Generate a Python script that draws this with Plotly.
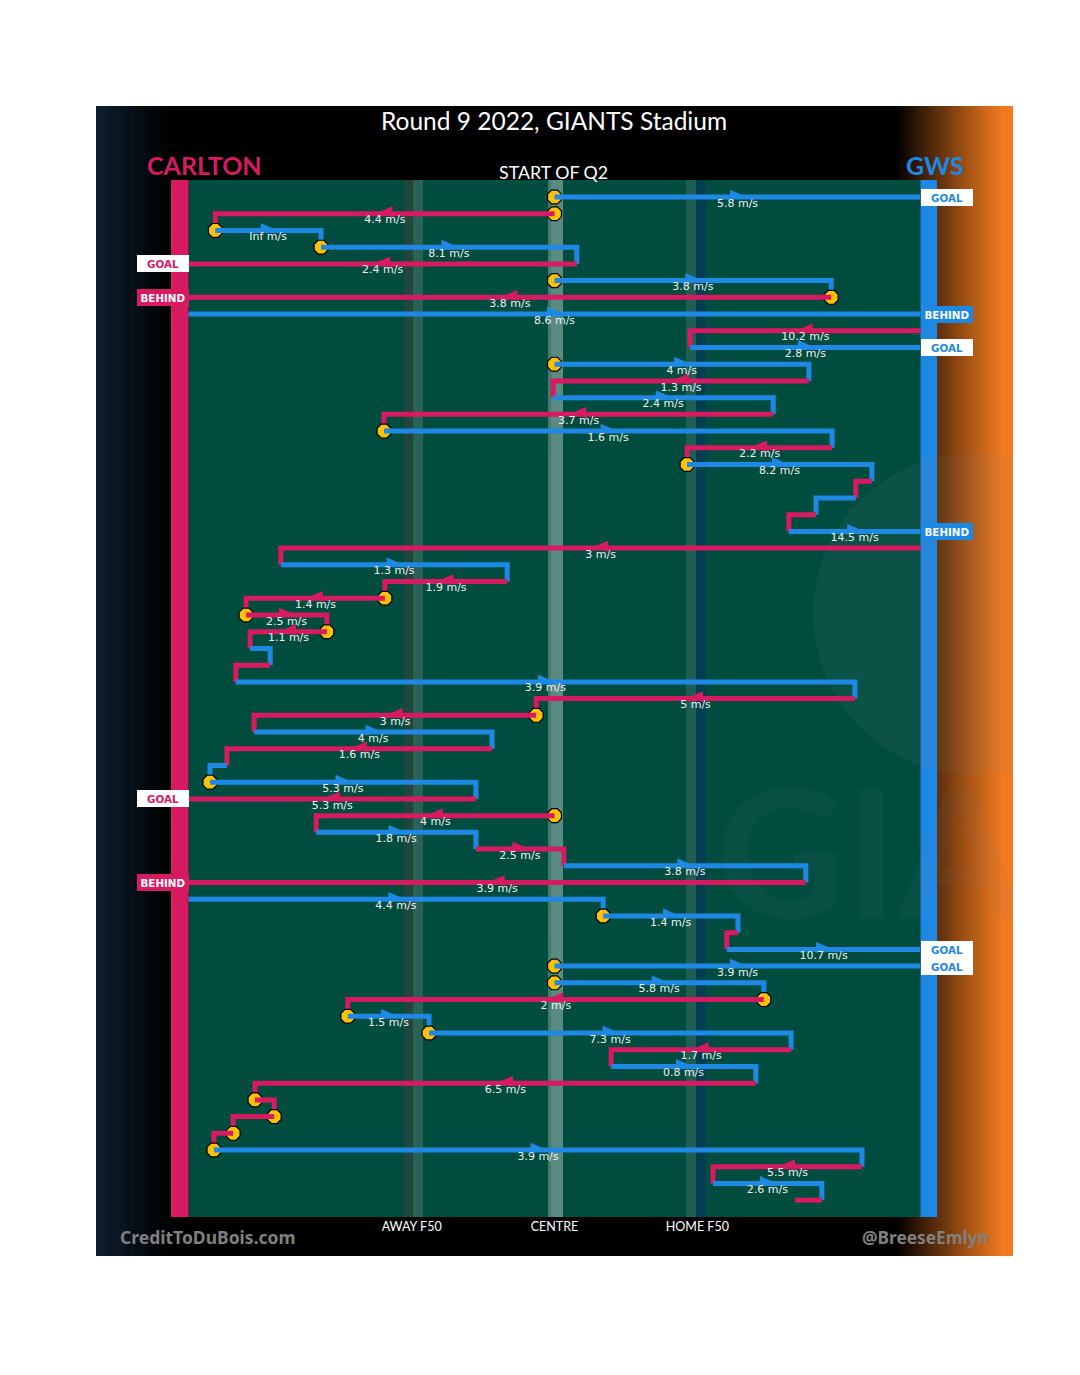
import plotly.graph_objects as go

# ---------------- data ----------------
# one entry per possession link, top to bottom; x in metres from centre (goals at -82 / +82)
team = ["GWS", "CAR", "GWS", "GWS", "CAR", "GWS", "CAR", "GWS", "CAR", "GWS",
        "GWS", "CAR", "GWS", "CAR", "GWS", "CAR", "GWS", "CAR", "GWS", "CAR",
        "GWS", "CAR", "GWS", "CAR", "CAR", "CAR", "CAR", "GWS", "CAR", "GWS",
        "CAR", "CAR", "GWS", "CAR", "GWS", "GWS", "CAR", "CAR", "GWS", "CAR",
        "GWS", "CAR", "GWS", "GWS", "CAR", "GWS", "GWS", "GWS", "CAR", "GWS",
        "GWS", "CAR", "GWS", "CAR", "CAR", "CAR", "CAR", "GWS", "CAR", "GWS", "CAR"]

x_start = [0, 0, -76, -52.3, 5.0, 0, 62, -82, 82, 30.4,
           0, 57.0, -0.3, 49.0, -38.2, 62.2, 29.7, 71.1, 67.5, 58.6,
           52.5, 82, -61.3, -10.6, -38.0, -69.1, -51.0, -68.2, -63.7, -71.4,
           67.3, -4.1, -67.3, -14.0, -73.4, -77.2, -17.6, 0, -53.4, -17.6,
           2.1, 56.3, -82, 10.9, 41.1, 38.6, 0, 0, 46.9, -46.3,
           -28.1, 53.0, 12.7, 45.1, -67.1, -62.8, -72.0, -76.3, 68.9, 35.5, 59.9]

x_end = [82, -76, -52.3, 5.0, -82, 62, -82, 82, 30.4, 82,
         57.0, -0.3, 49.0, -38.2, 62.2, 29.7, 71.1, 67.5, 58.6, 52.5,
         82, -61.3, -10.6, -38.0, -69.1, -51.0, -68.2, -63.7, -71.4, 67.3,
         -4.1, -67.3, -14.0, -73.4, -77.2, -17.6, -82, -53.4, -17.6, 2.1,
         56.3, -82, 10.9, 41.1, 38.6, 82, 82, 46.9, -46.3, -28.1,
         53.0, 12.7, 45.1, -67.1, -62.8, -72.0, -76.3, 68.9, 35.5, 59.9, 53.9]

speed = ["5.8", "4.4", "Inf", "8.1", "2.4", "3.8", "3.8", "8.6", "10.2", "2.8",
         "4", "1.3", "2.4", "3.7", "1.6", "2.2", "8.2", None, None, None,
         "14.5", "3", "1.3", "1.9", "1.4", "2.5", "1.1", None, None, "3.9",
         "5", "3", "4", "1.6", None, "5.3", "5.3", "4", "1.8", "2.5",
         "3.8", "3.9", "4.4", "1.4", None, "10.7", "3.9", "5.8", "2", "1.5",
         "7.3", "1.7", "0.8", "6.5", None, None, None, "3.9", "5.5", "2.6", None]

result = {0: "GOAL", 4: "GOAL", 6: "BEHIND", 7: "BEHIND", 9: "GOAL", 20: "BEHIND",
          36: "GOAL", 41: "BEHIND", 45: "GOAL", 46: "GOAL"}

stoppage_rows = [0, 1, 2, 3, 5, 6, 10, 14, 16, 24, 25, 26, 31, 35, 37, 43,
                 46, 47, 48, 49, 50, 54, 55, 56, 57]

zone_ticks = [-32, 0, 32]
zone_labels = ["AWAY F50", "CENTRE", "HOME F50"]

# ---------------- style ----------------
COL = {"CAR": "#D81B60", "GWS": "#1E88E5"}
YELLOW = "#FFC107"
GREEN = "#004D40"
GOAL_X = 82

PX_M = 732 / 164.0
CX = 554.5
ROW0, ROWPX = 197.0, 16.72
OFF = 8  # page body margin


def mx(px):
    return (px - CX) / PX_M


def ry(py):
    return (py - ROW0) / ROWPX


def pxp(px):
    return (px - 96) / 917.0


def pyp(py):
    return 1 - (py - 106) / 1150.0


def lerp(c0, c1, t):
    return "rgb(%d,%d,%d)" % tuple(round(a + (b - a) * t) for a, b in zip(c0, c1))


shapes = []
Y_TOP, Y_BOT = ry(106), ry(1256)
# left gradient (navy -> black)
n = 40
a0, a1 = 96, 172
for k in range(n):
    a = a0 + k * (a1 - a0) / n
    b = a + (a1 - a0) / n + 0.6
    shapes.append(dict(type="rect", xref="x", yref="y", x0=mx(a), x1=mx(b), y0=Y_TOP, y1=Y_BOT,
                       fillcolor=lerp((13, 31, 47), (0, 0, 0), k / (n - 1)), line_width=0, layer="below"))
# right gradient (black -> orange)
n = 60
a0, a1 = 895, 1013
for k in range(n):
    a = a0 + k * (a1 - a0) / n
    b = a + (a1 - a0) / n + 0.6
    shapes.append(dict(type="rect", xref="x", yref="y", x0=mx(a), x1=mx(b), y0=Y_TOP, y1=Y_BOT,
                       fillcolor=lerp((0, 0, 0), (244, 123, 32), min(1, k / (n - 6))), line_width=0, layer="below"))

G_TOP, G_BOT = ry(180), ry(1217)
shapes.append(dict(type="rect", xref="x", yref="y", x0=-GOAL_X, x1=GOAL_X, y0=G_TOP, y1=G_BOT,
                   fillcolor=GREEN, line_width=0, layer="below"))
for (p0, p1, c) in [(404, 413, "#21473d"), (413, 423, "#2a6256"),
                    (548, 551, "#447a6f"), (551, 563, "#5a8b81"),
                    (686, 696, "#1f5f53"), (696, 706, "#033f50")]:
    shapes.append(dict(type="rect", xref="x", yref="y", x0=mx(p0), x1=mx(p1), y0=G_TOP, y1=G_BOT,
                       fillcolor=c, line_width=0, layer="below"))
# team goal bars
shapes.append(dict(type="rect", xref="x", yref="y", x0=mx(171), x1=-GOAL_X, y0=G_TOP, y1=G_BOT,
                   fillcolor=COL["CAR"], line_width=0, layer="below"))
shapes.append(dict(type="rect", xref="x", yref="y", x0=GOAL_X, x1=mx(937), y0=G_TOP, y1=G_BOT,
                   fillcolor=COL["GWS"], line_width=0, layer="below"))
# faint logo watermark circle
shapes.append(dict(type="circle", xref="x", yref="y", x0=mx(813), x1=mx(1135), y0=ry(453), y1=ry(775),
                   fillcolor="rgba(128,128,128,0.09)", line_width=0, layer="below"))

fig = go.Figure()

# faint "GIANTS" watermark (clipped at the panel edge like the original)
fig.add_trace(go.Scatter(x=[mx(716)], y=[ry(873)], mode="text", text=["GIA"],
                         textposition="middle right", hoverinfo="skip", showlegend=False,
                         textfont=dict(family="Lato", size=178, weight="bold",
                                       color="rgba(128,128,128,0.07)")))

n_rows = len(team)
for i in range(n_rows):
    c = COL[team[i]]
    if i in stoppage_rows:
        fig.add_trace(go.Scatter(x=[x_start[i]], y=[i], mode="markers", hoverinfo="skip", showlegend=False,
                                 marker=dict(symbol="octagon", size=15, color=YELLOW,
                                             line=dict(color="black", width=1.2))))
    xs = [x_start[i], x_end[i]]
    ys = [i, i]
    if i not in result and i < n_rows - 1:
        xs.append(x_end[i])
        ys.append(i + 1)
    fig.add_trace(go.Scatter(x=xs, y=ys, mode="lines", hoverinfo="skip", showlegend=False,
                             line=dict(color=c, width=5)))

# direction arrows (half-width 7.5 px) at the middle of each labelled link
HW = 7.5 / PX_M
for tm in ["CAR", "GWS"]:
    ax, ay = [], []
    for i in range(n_rows):
        if team[i] != tm or speed[i] is None:
            continue
        mid = (x_start[i] + x_end[i]) / 2.0
        d = 1 if x_end[i] > x_start[i] else -1
        ax += [mid - d * HW, mid + d * HW, mid - d * HW, mid - d * HW, None]
        ay += [i - 0.44, i - 0.06, i + 0.2, i - 0.44, None]
    fig.add_trace(go.Scatter(x=ax, y=ay, mode="lines", fill="toself", fillcolor=COL[tm],
                             line=dict(width=0, color=COL[tm]), hoverinfo="skip", showlegend=False))

# speed labels
lx, ly, lt = [], [], []
for i in range(n_rows):
    if speed[i] is None:
        continue
    lx.append((x_start[i] + x_end[i]) / 2.0)
    ly.append(i + 0.41)
    lt.append(speed[i] + " m/s")
fig.add_trace(go.Scatter(x=lx, y=ly, text=lt, mode="text", textposition="middle center",
                         hoverinfo="skip", showlegend=False, cliponaxis=False,
                         textfont=dict(family="DejaVu Sans", size=11, color="#f0f0f0")))

annotations = []
for i, res in result.items():
    left = x_end[i] < 0
    tcol = COL[team[i]]
    if res == "GOAL":
        bg, fc = "white", tcol
    else:
        bg, fc = tcol, "white"
    annotations.append(dict(x=-GOAL_X if left else GOAL_X, y=i, xref="x", yref="y",
                            xanchor="right" if left else "left", yanchor="middle",
                            text="<b>%s</b>" % res, showarrow=False, bgcolor=bg,
                            width=52, height=17, borderpad=0, borderwidth=0, align="center",
                            font=dict(family="DejaVu Sans", size=10.3, color=fc)))

annotations += [
    dict(x=pxp(553.5), y=pyp(120), xref="paper", yref="paper", text="Round 9 2022, GIANTS Stadium",
         showarrow=False, xanchor="center", yanchor="middle",
         font=dict(family="Lato", size=24.5, color="white")),
    dict(x=pxp(204), y=pyp(165), xref="paper", yref="paper", text="<b>CARLTON</b>",
         showarrow=False, xanchor="center", yanchor="middle",
         font=dict(family="Lato", size=25, color=COL["CAR"])),
    dict(x=pxp(934.5), y=pyp(165), xref="paper", yref="paper", text="<b>GWS</b>",
         showarrow=False, xanchor="center", yanchor="middle",
         font=dict(family="Lato", size=25, color=COL["GWS"])),
    dict(x=pxp(553.5), y=pyp(172.5), xref="paper", yref="paper", text="START OF Q2",
         showarrow=False, xanchor="center", yanchor="middle",
         font=dict(family="Lato", size=17.8, color="white")),
    dict(x=pxp(208), y=pyp(1237), xref="paper", yref="paper", text="<b>CreditToDuBois.com</b>",
         showarrow=False, xanchor="center", yanchor="middle",
         font=dict(family="Noto Sans", size=17.5, color="#808080")),
    dict(x=pxp(925), y=pyp(1237), xref="paper", yref="paper", text="<b>@BreeseEmlyn</b>",
         showarrow=False, xanchor="center", yanchor="middle",
         font=dict(family="Noto Sans", size=17.3, color="#808080")),
]

fig.update_layout(
    width=1080, height=1375,
    margin=dict(l=96 - OFF, r=1080 - 1013 + OFF, t=106 - OFF, b=1375 - 1256 + OFF, pad=0),
    paper_bgcolor="white", plot_bgcolor="black",
    showlegend=False,
    shapes=shapes, annotations=annotations,
    xaxis=dict(range=[mx(96), mx(1013)], showgrid=False, zeroline=False, showline=False,
               ticks="", tickvals=zone_ticks, ticktext=zone_labels,
               tickfont=dict(family="Lato", size=12.5, color="white"),
               anchor="free", position=pyp(1217), fixedrange=True),
    yaxis=dict(range=[Y_BOT, Y_TOP], visible=False, fixedrange=True),
)

fig.write_html("out.html")
